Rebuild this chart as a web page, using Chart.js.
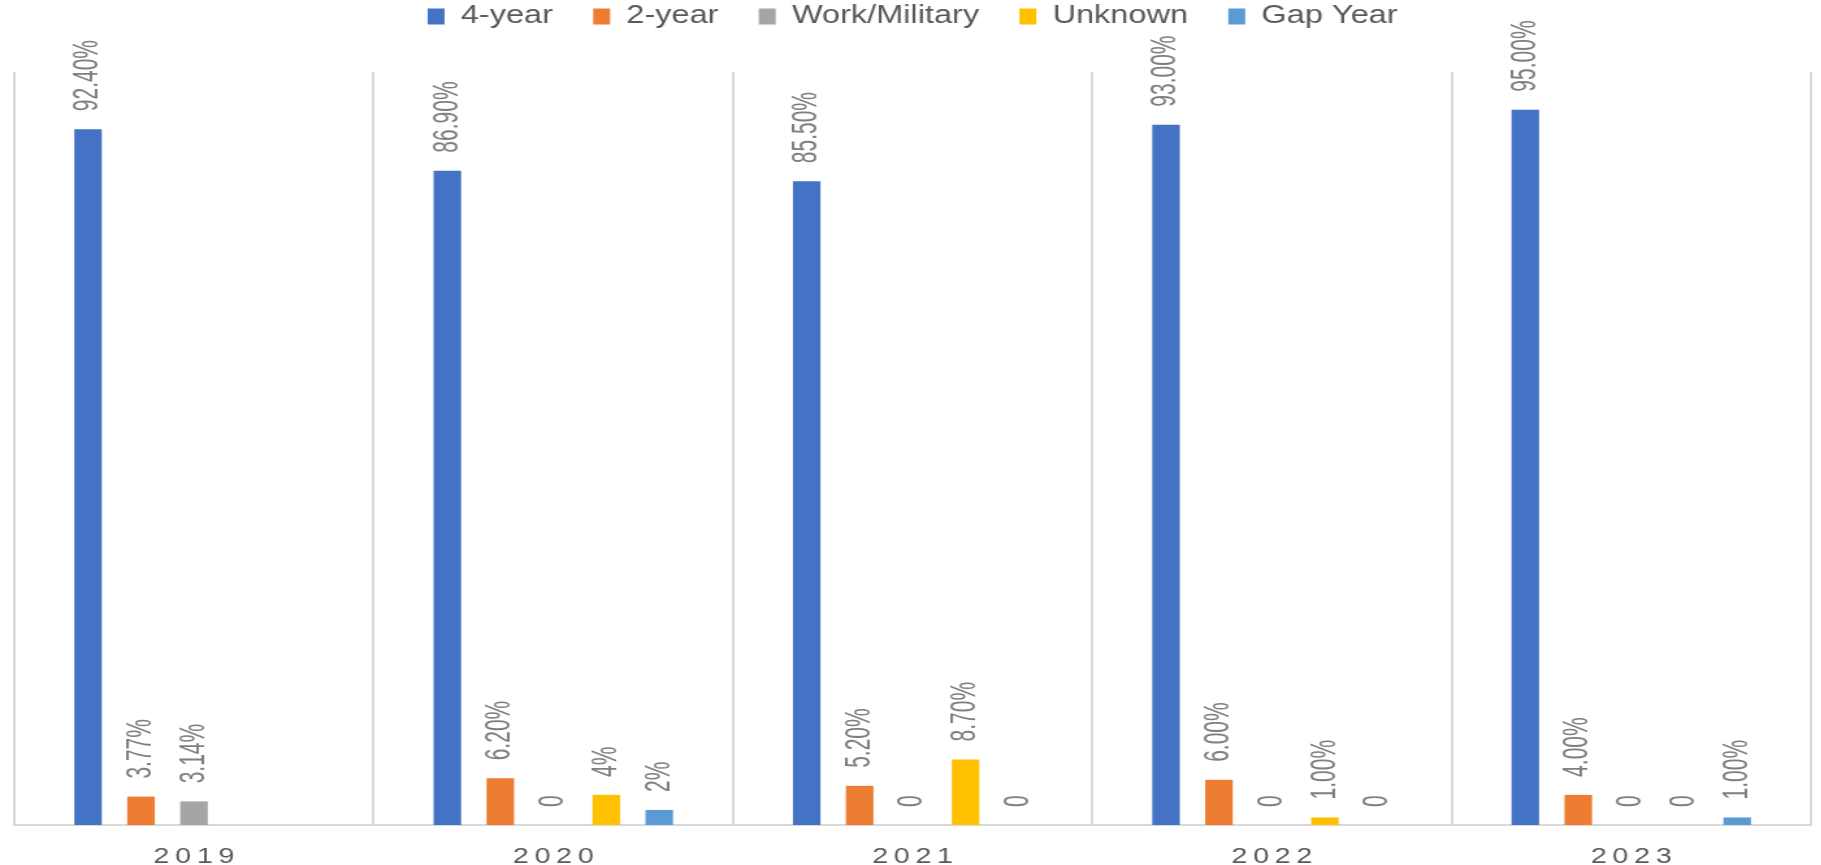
<!DOCTYPE html>
<html>
<head>
<meta charset="utf-8">
<script src="https://cdn.jsdelivr.net/npm/chart.js@4.4.1/dist/chart.umd.min.js"></script>
<style>
  html, body { margin: 0; padding: 0; background: #fff; overflow: hidden; }
  /* the source picture is stretched sideways, so the chart is drawn narrow and widened */
  #wrap { width: 1401px; height: 865px; transform: scaleX(1.3); transform-origin: 0 0; }
</style>
</head>
<body>
<div id="wrap"><canvas id="chart"></canvas></div>
<script>
// --- DATA ---
const years = ['2019', '2020', '2021', '2022', '2023'];

const fourYear = [92.4, 86.9, 85.5, 93.0, 95.0];
const twoYear = [3.77, 6.2, 5.2, 6.0, 4.0];
const workMilitary = [3.14, 0, 0, 0, 0];
const unknown = [null, 4, 8.7, 1.0, 0];
const gapYear = [null, 2, 0, 0, 1.0];

// label texts as printed on the chart
const fourYearText = ['92.40%', '86.90%', '85.50%', '93.00%', '95.00%'];
const twoYearText = ['3.77%', '6.20%', '5.20%', '6.00%', '4.00%'];
const workMilitaryText = ['3.14%', '0', '0', '0', '0'];
const unknownText = [null, '4%', '8.70%', '1.00%', '0'];
const gapYearText = [null, '2%', '0', '0', '1.00%'];

const FONT = '"Liberation Sans", Arial, sans-serif';

// pushes the plot area down below the legend
const legendGap = {
  id: 'legendGap',
  beforeInit(chart) {
    const fit = chart.legend.fit;
    chart.legend.fit = function () {
      fit.call(this);
      this.height += 33;
    };
  }
};

// rotated value labels above each bar
const barLabels = {
  id: 'barLabels',
  afterDatasetsDraw(chart) {
    const ctx = chart.ctx;
    chart.data.datasets.forEach((ds, i) => {
      chart.getDatasetMeta(i).data.forEach((bar, j) => {
        const text = ds.valueText[j];
        if (text == null) return;
        ctx.save();
        ctx.translate(bar.x, bar.y - 18);
        ctx.scale(1.28, 1);
        ctx.rotate(-Math.PI / 2);
        ctx.font = '21px ' + FONT;
        ctx.fillStyle = '#7f7f7f';
        ctx.textAlign = 'left';
        ctx.textBaseline = 'middle';
        ctx.fillText(text, 0, 0);
        ctx.restore();
      });
    });
  }
};

function series(label, data, color, valueText) {
  return {
    label: label,
    data: data,
    valueText: valueText,
    backgroundColor: color,
    borderWidth: 0,
    categoryPercentage: 0.737,
    barPercentage: 0.52
  };
}

new Chart(document.getElementById('chart'), {
  type: 'bar',
  data: {
    labels: years,
    datasets: [
      series('4-year', fourYear, '#4472C4', fourYearText),
      series('2-year', twoYear, '#ED7D31', twoYearText),
      series('Work/Military', workMilitary, '#A5A5A5', workMilitaryText),
      series('Unknown', unknown, '#FFC000', unknownText),
      series('Gap Year', gapYear, '#5B9BD5', gapYearText)
    ]
  },
  options: {
    responsive: true,
    maintainAspectRatio: false,
    animation: false,
    layout: { padding: { left: 11, right: 8, top: -27, bottom: -24 } },
    plugins: {
      tooltip: { enabled: false },
      legend: {
        position: 'top',
        labels: {
          boxWidth: 13,
          boxHeight: 16,
          padding: 31,
          color: '#595959',
          font: { family: FONT, size: 25 }
        }
      }
    },
    scales: {
      x: {
        grid: { color: '#d9d9d9', lineWidth: 2, drawTicks: false, offset: true },
        border: { color: '#d9d9d9', width: 2 },
        ticks: {
          color: '#595959',
          padding: 21,
          maxRotation: 0,
          autoSkip: false,
          font: { family: FONT, size: 22, lineHeight: 1 },
          callback: (v, i) => years[i].split('').join('\u2009')
        }
      },
      y: {
        display: false,
        min: 0,
        max: 100
      }
    }
  },
  plugins: [legendGap, barLabels]
});
</script>
</body>
</html>
